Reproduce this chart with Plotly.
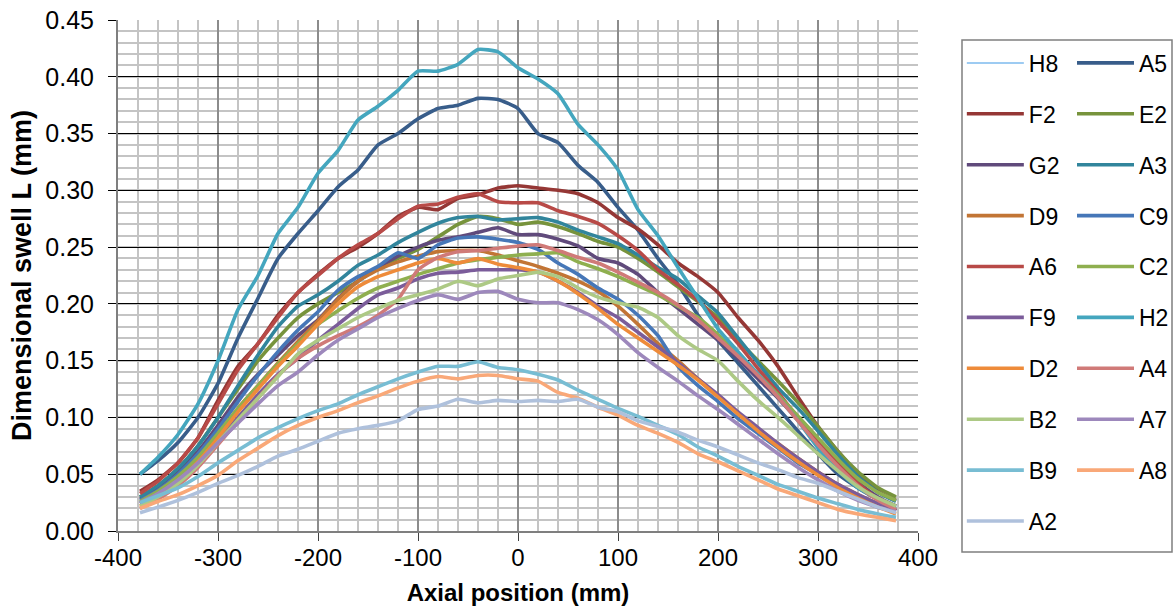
import plotly.graph_objects as go

X = [-378, -360, -340, -320, -300, -280, -260, -240, -220, -200, -180, -160, -140, -120,
     -100, -80, -60, -40, -20, 0, 20, 40, 60, 80, 100, 120, 140, 160, 180, 200, 220, 240,
     260, 280, 300, 320, 340, 360, 378]

X_TICKS = [-400, -300, -200, -100, 0, 100, 200, 300, 400]
X_TICK_LABELS = ["-400", "-300", "-200", "-100", "0", "100", "200", "300", "400"]
Y_TICKS = [0.00, 0.05, 0.10, 0.15, 0.20, 0.25, 0.30, 0.35, 0.40, 0.45]
Y_TICK_LABELS = ["0.00", "0.05", "0.10", "0.15", "0.20", "0.25", "0.30", "0.35", "0.40", "0.45"]

H8 = []
A5 = [0.050, 0.062, 0.078, 0.100, 0.130, 0.170, 0.205, 0.240, 0.262, 0.282, 0.303, 0.318, 0.340, 0.350,
      0.363, 0.372, 0.375, 0.381, 0.380, 0.372, 0.350, 0.342, 0.322, 0.307, 0.285, 0.265, 0.240, 0.217,
      0.190, 0.168, 0.148, 0.128, 0.108, 0.088, 0.068, 0.050, 0.038, 0.028, 0.022]
F2 = [0.035, 0.045, 0.060, 0.082, 0.115, 0.145, 0.165, 0.190, 0.210, 0.226, 0.240, 0.250, 0.262, 0.277,
      0.285, 0.283, 0.293, 0.296, 0.302, 0.304, 0.302, 0.300, 0.297, 0.289, 0.276, 0.266, 0.252, 0.236,
      0.224, 0.210, 0.188, 0.168, 0.145, 0.118, 0.092, 0.070, 0.050, 0.035, 0.027]
E2 = [0.030, 0.040, 0.055, 0.075, 0.100, 0.125, 0.150, 0.170, 0.188, 0.200, 0.210, 0.220, 0.232, 0.240,
      0.248, 0.259, 0.270, 0.277, 0.275, 0.270, 0.272, 0.268, 0.262, 0.255, 0.250, 0.240, 0.228, 0.215,
      0.202, 0.188, 0.168, 0.150, 0.132, 0.113, 0.092, 0.070, 0.052, 0.038, 0.030]
G2 = [0.028, 0.038, 0.052, 0.070, 0.093, 0.118, 0.138, 0.155, 0.172, 0.186, 0.205, 0.220, 0.232, 0.242,
      0.250, 0.256, 0.259, 0.263, 0.267, 0.261, 0.261, 0.257, 0.251, 0.240, 0.236, 0.226, 0.210, 0.196,
      0.182, 0.168, 0.152, 0.134, 0.117, 0.098, 0.079, 0.060, 0.043, 0.030, 0.022]
A3 = [0.030, 0.040, 0.055, 0.075, 0.100, 0.128, 0.155, 0.180, 0.198, 0.208, 0.220, 0.234, 0.243, 0.254,
      0.263, 0.271, 0.276, 0.277, 0.274, 0.275, 0.276, 0.272, 0.265, 0.259, 0.253, 0.243, 0.232, 0.222,
      0.207, 0.192, 0.170, 0.148, 0.126, 0.108, 0.088, 0.067, 0.048, 0.034, 0.026]
D9 = [0.025, 0.034, 0.047, 0.064, 0.085, 0.108, 0.128, 0.148, 0.167, 0.185, 0.204, 0.220, 0.230, 0.237,
      0.242, 0.246, 0.247, 0.247, 0.243, 0.238, 0.233, 0.227, 0.220, 0.211, 0.198, 0.182, 0.165, 0.150,
      0.134, 0.119, 0.104, 0.090, 0.077, 0.064, 0.052, 0.041, 0.032, 0.024, 0.018]
C9 = [0.027, 0.036, 0.050, 0.068, 0.090, 0.114, 0.137, 0.158, 0.177, 0.193, 0.212, 0.224, 0.233, 0.245,
      0.240, 0.252, 0.258, 0.259, 0.257, 0.254, 0.248, 0.236, 0.226, 0.214, 0.204, 0.190, 0.172, 0.145,
      0.128, 0.114, 0.099, 0.086, 0.073, 0.060, 0.050, 0.040, 0.031, 0.024, 0.018]
A6 = [0.033, 0.044, 0.060, 0.082, 0.112, 0.142, 0.165, 0.188, 0.210, 0.225, 0.240, 0.252, 0.262, 0.275,
      0.286, 0.288, 0.294, 0.297, 0.290, 0.289, 0.289, 0.282, 0.277, 0.271, 0.260, 0.247, 0.230, 0.217,
      0.203, 0.185, 0.165, 0.143, 0.122, 0.100, 0.080, 0.060, 0.042, 0.028, 0.018]
C2 = [0.026, 0.035, 0.048, 0.065, 0.086, 0.108, 0.128, 0.147, 0.165, 0.182, 0.194, 0.205, 0.214, 0.220,
      0.226, 0.231, 0.236, 0.239, 0.241, 0.243, 0.244, 0.245, 0.237, 0.231, 0.224, 0.216, 0.208, 0.198,
      0.188, 0.173, 0.156, 0.138, 0.120, 0.101, 0.082, 0.063, 0.046, 0.034, 0.027]
F9 = [0.024, 0.032, 0.044, 0.060, 0.080, 0.100, 0.120, 0.138, 0.152, 0.168, 0.182, 0.196, 0.208, 0.214,
      0.222, 0.227, 0.228, 0.230, 0.230, 0.230, 0.228, 0.220, 0.210, 0.198, 0.188, 0.175, 0.162, 0.148,
      0.134, 0.120, 0.105, 0.091, 0.077, 0.064, 0.052, 0.041, 0.032, 0.024, 0.018]
H2 = [0.050, 0.065, 0.085, 0.112, 0.150, 0.195, 0.225, 0.262, 0.285, 0.315, 0.335, 0.362, 0.374, 0.388,
      0.405, 0.405, 0.411, 0.424, 0.422, 0.408, 0.398, 0.385, 0.358, 0.340, 0.318, 0.283, 0.260, 0.232,
      0.205, 0.178, 0.158, 0.138, 0.118, 0.097, 0.073, 0.053, 0.038, 0.028, 0.020]
D2 = [0.022, 0.031, 0.044, 0.061, 0.082, 0.105, 0.125, 0.145, 0.163, 0.182, 0.200, 0.215, 0.224, 0.230,
      0.236, 0.240, 0.236, 0.240, 0.235, 0.232, 0.228, 0.220, 0.209, 0.196, 0.182, 0.170, 0.158, 0.146,
      0.133, 0.118, 0.103, 0.088, 0.074, 0.061, 0.049, 0.038, 0.029, 0.021, 0.015]
A4 = [0.020, 0.028, 0.040, 0.056, 0.076, 0.097, 0.117, 0.137, 0.152, 0.163, 0.172, 0.180, 0.190, 0.204,
      0.230, 0.241, 0.246, 0.247, 0.249, 0.251, 0.252, 0.247, 0.241, 0.236, 0.228, 0.219, 0.210, 0.199,
      0.186, 0.170, 0.154, 0.137, 0.118, 0.097, 0.076, 0.057, 0.040, 0.027, 0.019]
B2 = [0.022, 0.030, 0.042, 0.058, 0.078, 0.098, 0.117, 0.136, 0.156, 0.168, 0.178, 0.188, 0.196, 0.203,
      0.208, 0.213, 0.220, 0.216, 0.222, 0.225, 0.228, 0.224, 0.214, 0.206, 0.201, 0.197, 0.188, 0.172,
      0.160, 0.150, 0.132, 0.115, 0.100, 0.084, 0.068, 0.053, 0.039, 0.029, 0.022]
A7 = [0.025, 0.033, 0.045, 0.060, 0.078, 0.095, 0.112, 0.128, 0.140, 0.155, 0.168, 0.178, 0.188, 0.196,
      0.203, 0.208, 0.204, 0.210, 0.211, 0.204, 0.201, 0.201, 0.195, 0.186, 0.173, 0.157, 0.144, 0.132,
      0.119, 0.107, 0.094, 0.081, 0.068, 0.056, 0.045, 0.035, 0.027, 0.021, 0.017]
B9 = [0.025, 0.031, 0.038, 0.048, 0.060, 0.071, 0.082, 0.091, 0.099, 0.106, 0.112, 0.120, 0.127, 0.134,
      0.140, 0.145, 0.145, 0.149, 0.144, 0.142, 0.138, 0.133, 0.124, 0.116, 0.108, 0.101, 0.093, 0.085,
      0.074, 0.066, 0.057, 0.049, 0.041, 0.035, 0.029, 0.024, 0.019, 0.015, 0.012]
A8 = [0.020, 0.026, 0.032, 0.040, 0.049, 0.062, 0.073, 0.084, 0.093, 0.100, 0.106, 0.113, 0.119, 0.126,
      0.132, 0.136, 0.134, 0.137, 0.137, 0.134, 0.132, 0.122, 0.117, 0.109, 0.102, 0.093, 0.086, 0.078,
      0.068, 0.061, 0.053, 0.045, 0.037, 0.031, 0.025, 0.019, 0.015, 0.012, 0.009]
A2 = [0.016, 0.021, 0.027, 0.034, 0.042, 0.049, 0.057, 0.066, 0.072, 0.079, 0.086, 0.090, 0.093, 0.097,
      0.107, 0.110, 0.116, 0.113, 0.115, 0.114, 0.115, 0.114, 0.116, 0.109, 0.105, 0.097, 0.092, 0.087,
      0.080, 0.074, 0.067, 0.060, 0.054, 0.047, 0.042, 0.035, 0.028, 0.021, 0.016]

SERIES = [
    ("H8", H8, "#9DCBF2", 2), ("A5", A5, "#385D8A", 3.6),
    ("F2", F2, "#953735", 3.6), ("E2", E2, "#77933C", 3.6),
    ("G2", G2, "#604A7B", 3.6), ("A3", A3, "#31859C", 3.6),
    ("D9", D9, "#C27535", 3.6), ("C9", C9, "#4677B8", 3.6),
    ("A6", A6, "#B84A47", 3.6), ("C2", C2, "#8FAF4F", 3.6),
    ("F9", F9, "#7B5C9A", 3.6), ("H2", H2, "#44A6BE", 3.6),
    ("D2", D2, "#EE8B3A", 3.6), ("A4", A4, "#D07A78", 3.6),
    ("B2", B2, "#ADC985", 3.6), ("A7", A7, "#9D88BC", 3.6),
    ("B9", B9, "#78BDD3", 3.6), ("A8", A8, "#F9A878", 3.6),
    ("A2", A2, "#AFC1DC", 3.6),
]

FONT = "Liberation Sans, Arial, sans-serif"

W, H = 1175, 610
L, T = 118, 20
PW, PH = 800, 511

fig = go.Figure()
for i, (name, ys, color, w) in enumerate(SERIES):
    xs = X if ys else [None]
    yv = ys if ys else [None]
    fig.add_trace(go.Scatter(
        x=xs, y=yv, name=name, mode="lines",
        line=dict(color=color, width=w, shape="spline", smoothing=0.5),
        legend="legend" if i % 2 == 0 else "legend2",
        legendgroup=name,
    ))

legend_common = dict(
    font=dict(family=FONT, size=23, color="#000000"),
    bgcolor="rgba(0,0,0,0)", borderwidth=0,
    tracegroupgap=18, itemwidth=57, yanchor="top", xanchor="left",
)

fig.update_layout(
    width=W, height=H,
    margin=dict(l=L, r=W - L - PW, t=T, b=H - T - PH, autoexpand=False),
    paper_bgcolor="white", plot_bgcolor="white",
    font=dict(family=FONT, color="#000000"),
    showlegend=True,
    legend=dict(x=1.0548, y=0.958, **legend_common),
    legend2=dict(x=1.1925, y=0.958, **legend_common),
    xaxis=dict(
        range=[-400, 400], tickmode="array", tickvals=X_TICKS, ticktext=X_TICK_LABELS,
        showgrid=True, gridcolor="#8C8C8C", gridwidth=2,
        minor=dict(dtick=20, tick0=0, showgrid=True, gridcolor="#C4C4C4", gridwidth=2),
        showline=True, linecolor="#7F7F7F", linewidth=2,
        ticks="outside", ticklen=8, tickcolor="#404040", tickwidth=1,
        tickfont=dict(family=FONT, size=24), ticklabelstandoff=-4,
        ticklabeloverflow="allow",
        zeroline=False, automargin=False,
        title=dict(text="<b>Axial position (mm)</b>", font=dict(family=FONT, size=24), standoff=14),
    ),
    yaxis=dict(
        range=[0, 0.45], tickmode="array", tickvals=Y_TICKS, ticktext=Y_TICK_LABELS,
        showgrid=True, gridcolor="#000000", gridwidth=1.3,
        minor=dict(tickmode="linear", dtick=0.01, tick0=0, showgrid=True, gridcolor="#C4C4C4", gridwidth=2),
        showline=True, linecolor="#7F7F7F", linewidth=2,
        ticks="outside", ticklen=8, tickcolor="#000000", tickwidth=1,
        tickfont=dict(family=FONT, size=25), ticklabelstandoff=9,
        ticklabeloverflow="allow",
        zeroline=False, automargin=False,
        title=dict(text="<b>Dimensional swell L (mm)</b>", font=dict(family=FONT, size=27), standoff=6),
    ),
    shapes=[dict(type="rect", xref="paper", yref="paper",
                 x0=(962 - 118) / PW, x1=(1172 - 118) / PW,
                 y0=(531 - 552) / PH, y1=(531 - 40) / PH,
                 line=dict(color="#7F7F7F", width=1.5), fillcolor="rgba(0,0,0,0)", layer="below")],
)

# remove the browser's default 8 px page margin so the figure fills the window; hide the mode bar
fig.write_html("out.html", config={"displayModeBar": False},
               post_script="document.body.style.margin='0px';")
